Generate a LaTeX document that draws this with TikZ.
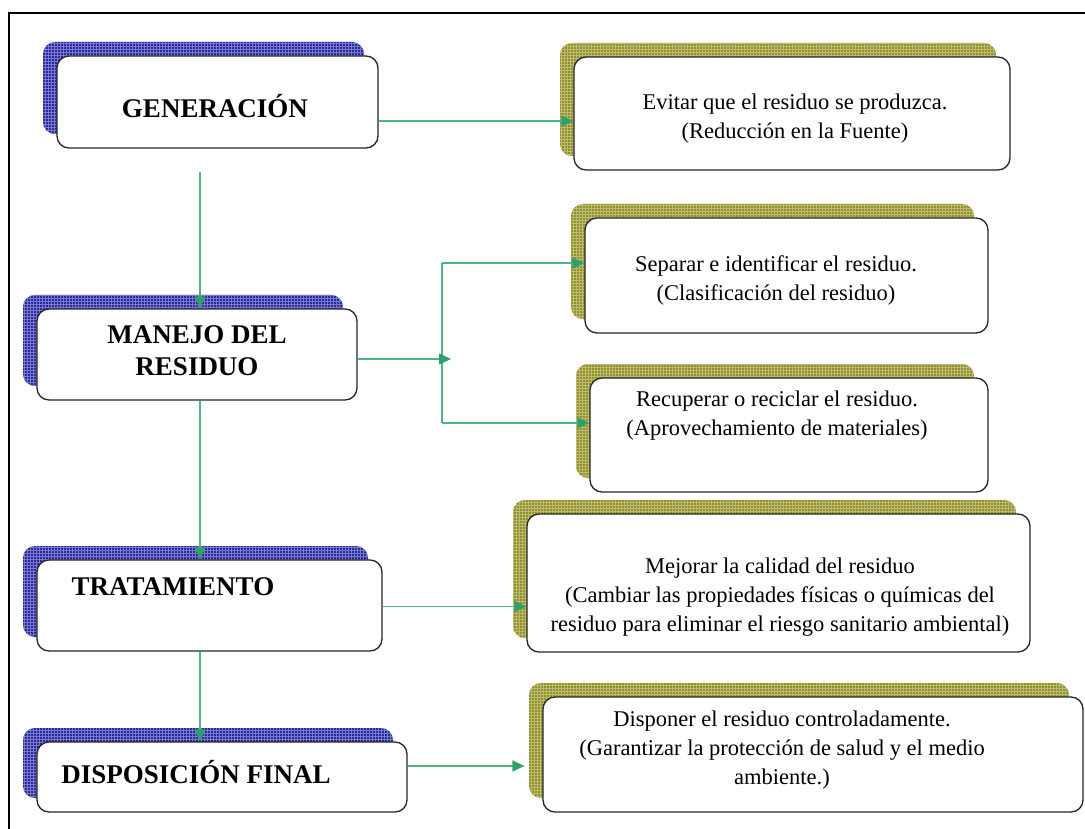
\documentclass[tikz,border=0pt]{standalone}
\usepackage{fontspec}
\setmainfont{Liberation Serif}
\usetikzlibrary{arrows.meta,patterns,calc}
\definecolor{gline}{RGB}{80,180,130}
\definecolor{ghead}{RGB}{45,160,110}
\definecolor{bshadow}{RGB}{40,40,165}
\definecolor{oshadow}{RGB}{145,145,35}
\tikzset{
  box/.style={draw=black!85, line width=1.3pt, fill=white, rounded corners=12pt, inner sep=0pt},
  conn/.style={draw=gline, line width=1.5pt},
  arr/.style={conn, -{Triangle[length=12pt,width=11pt,color=ghead]}},
  lbl/.style={font=\bfseries\fontsize{27}{32}\selectfont, align=center, inner sep=0pt},
  rtx/.style={font=\fontsize{22.5}{29}\selectfont, align=center, inner sep=0pt},
  frame/.style={draw=black, line width=1.4pt},
}
% shadow: #1 x1, #2 y1, #3 x2, #4 y2, #5 colour
\newcommand\shadowbox[5]{%
  \fill[#5, rounded corners=12pt] (#1-14,#2-14) rectangle (#3-14,#4-14);
  \fill[pattern=grid, pattern color=white!38!#5, rounded corners=12pt] (#1-14,#2-14) rectangle (#3-14,#4-14);
}
\begin{document}
\begin{tikzpicture}[x=1pt,y=-1pt]
\useasboundingbox (0,0) rectangle (1085,829);
\fill[white] (0,0) rectangle (1085,829);
\draw[frame] (9,829) -- (9,13) -- (1085,13);

% shadows
\shadowbox{57}{56}{378}{148}{bshadow}
\shadowbox{37}{309}{357}{400}{bshadow}
\shadowbox{37}{560}{382}{651}{bshadow}
\shadowbox{37}{742}{407}{812}{bshadow}
\shadowbox{574}{57}{1010}{170}{oshadow}
\shadowbox{585}{218}{988}{333}{oshadow}
\shadowbox{590}{378}{988}{492}{oshadow}
\shadowbox{527}{514}{1030}{652}{oshadow}
\shadowbox{543}{697}{1083}{812}{oshadow}

% boxes
\node[box, minimum width=321pt, minimum height=92pt] (gen) at (217.5,102) {};
\node[box, minimum width=320pt, minimum height=91pt] (man) at (197,354.5) {};
\node[box, minimum width=345pt, minimum height=91pt] (tra) at (209.5,605.5) {};
\node[box, minimum width=370pt, minimum height=70pt] (dis) at (222,777) {};
\node[box, minimum width=436pt, minimum height=113pt] (ev) at (792,113.5) {};
\node[box, minimum width=403pt, minimum height=115pt] (sep) at (786.5,275.5) {};
\node[box, minimum width=398pt, minimum height=114pt] (rec) at (789,435) {};
\node[box, minimum width=503pt, minimum height=138pt] (mej) at (778.5,583) {};
\node[box, minimum width=540pt, minimum height=115pt] (dsp) at (813,754.5) {};

% texts
\node[lbl] (tgen) at (215,106) {GENERACIÓN};
\node[lbl] (tman) at (197,351) {MANEJO DEL\\RESIDUO};
\node[lbl] (ttra) at (173,587) {TRATAMIENTO};
\node[lbl] (tdis) at (196,772) {DISPOSICIÓN FINAL};
\node[rtx] (tev) at (795,119) {Evitar que el residuo se produzca.\\(Reducción en la Fuente)};
\node[rtx] (tsep) at (776,280) {Separar e identificar el residuo.\\(Clasificación del residuo)};
\node[rtx] (trec) at (777,416) {Recuperar o reciclar el residuo.\\(Aprovechamiento de materiales)};
\node[rtx] (tmej) at (780,597) {Mejorar la calidad del residuo\\(Cambiar las propiedades físicas o químicas del\\residuo para eliminar el riesgo sanitario ambiental)};
\node[rtx] (tdsp) at (782,750) {Disponer el residuo controladamente.\\(Garantizar la protección de salud y el medio\\ambiente.)};

% connectors
\coordinate (g0) at (200,172);
\draw[arr] ([yshift=-19pt]gen.east) -- ([yshift=-19pt]gen.east -| ev.west);
\draw[arr] (g0) -- (g0 |- man.north);
\draw[arr] (man.south -| g0) -- (g0 |- tra.north);
\draw[arr] (tra.south -| g0) -- (g0 |- dis.north);

\coordinate (jt) at (451,359);
\coordinate (jtop) at (442,263);
\coordinate (jbot) at (442,423);
\draw[conn] (jtop) -- (jbot);
\draw[arr] (man.east |- jt) -- (jt);
\draw[arr] (jtop) -- (jtop -| sep.west);
\draw[arr] (jbot) -- (jbot -| rec.west);

\draw[arr] ([yshift=-1pt]tra.east) -- ([yshift=-1pt]tra.east -| mej.west);
\draw[arr] ([yshift=11pt]dis.east) -- ([yshift=11pt,xshift=-18pt]dis.east -| dsp.west);
\end{tikzpicture}
\end{document}
